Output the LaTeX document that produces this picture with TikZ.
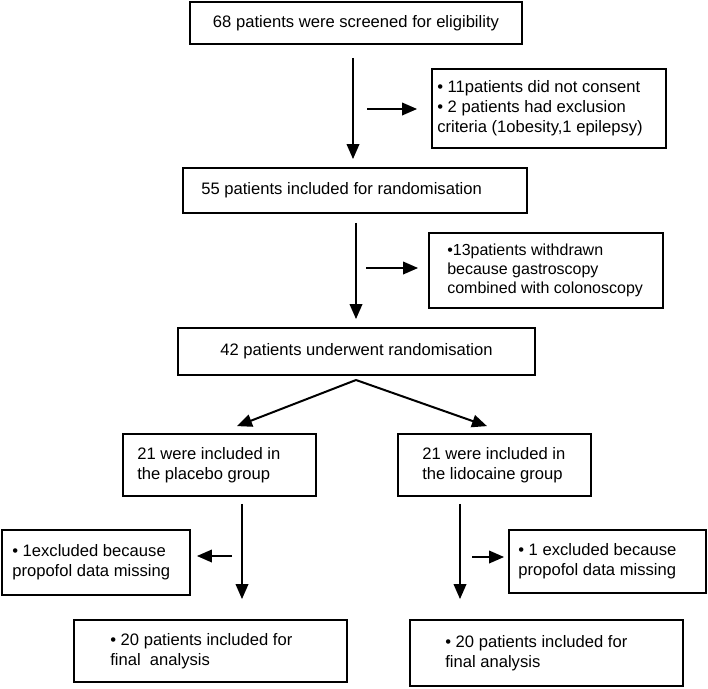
\documentclass[tikz,border=0pt]{standalone}
\usepackage{fontspec}
\setmainfont{Liberation Sans}
\usetikzlibrary{arrows.meta,calc}
\begin{document}
\begin{tikzpicture}[x=1pt,y=-1pt,
  box/.style={draw, line width=1.8pt, inner sep=0pt, font=\fontsize{16.6}{20}\selectfont},
  txt/.style={font=\fontsize{16.6}{20}\selectfont, align=left, inner sep=0pt, anchor=west},
  arr/.style={line width=2pt, -{Triangle[length=15pt,width=12.5pt]}}]
\useasboundingbox (0,0) rectangle (708,688);

% main column
\node[box, minimum width=332pt, minimum height=42pt] (b1) at (356,23) {68 patients were screened for eligibility};
\node[box, minimum width=344pt, minimum height=45pt] (b2) at (355,190.5) {};
\node[txt] (t2) at ($(b2.west)+(19,0)$) {55 patients included for randomisation};
\node[box, minimum width=357pt, minimum height=47pt] (b3) at (356.5,351.5) {42 patients underwent randomisation};

% side boxes top
\node[box, minimum width=234pt, minimum height=79pt] (bA) at (549,108.5) {};
\node[txt] (tA) at ($(bA.west)+(6,0)$) {• 11patients did not consent\\• 2 patients had exclusion\\criteria (1obesity,1 epilepsy)};
\node[box, minimum width=234pt, minimum height=75pt] (bB) at (546,270.5) {};
\node[txt, font=\fontsize{16}{19}\selectfont] (tB) at ($(bB.west)+(19,0)$) {•13patients withdrawn\\because gastroscopy\\combined with colonoscopy};

% groups
\node[box, minimum width=193pt, minimum height=62pt] (bL) at (219.5,465) {};
\node[txt] (tL) at ($(bL.west)+(15,0)$) {21 were included in\\the placebo group};
\node[box, minimum width=193pt, minimum height=62pt] (bR) at (494.5,465) {};
\node[txt] (tR) at ($(bR.west)+(25,0)$) {21 were included in\\the lidocaine group};

% exclusions
\node[box, minimum width=188pt, minimum height=65pt] (sL) at (96,562.5) {};
\node[txt] (tsL) at ($(sL.west)+(11,0)$) {• 1excluded because\\propofol data missing};
\node[box, minimum width=197pt, minimum height=63pt] (sR) at (607.5,561.5) {};
\node[txt] (tsR) at ($(sR.west)+(10,0)$) {• 1 excluded because\\propofol data missing};

% finals
\node[box, minimum width=273pt, minimum height=62pt] (fL) at (210.5,651) {};
\node[txt] (tfL) at ($(fL.west)+(37,0)$) {• 20 patients included for\\final\ \ analysis};
\node[box, minimum width=273pt, minimum height=66pt] (fR) at (546.5,653) {};
\node[txt] (tfR) at ($(fR.west)+(36,0)$) {• 20 patients included for\\final analysis};

% connector helper coordinates
\coordinate (x1) at (353,0);
\coordinate (x2) at (356,0);
\coordinate (sa) at (367,109);
\coordinate (sb) at (366,268);
\coordinate (xl) at (242,0);
\coordinate (xr) at (460,0);
\coordinate (sl) at (232,556);
\coordinate (sr) at (472,557);
\coordinate (apex) at (356,380);

\draw[arr, shorten <=13pt, shorten >=8pt] (b1.south -| x1) -- (b2.north -| x1);
\draw[arr, shorten >=14pt] (sa) -- (sa -| bA.west);
\draw[arr, shorten <=9pt, shorten >=8pt] (b2.south -| x2) -- (b3.north -| x2);
\draw[arr, shorten >=10pt] (sb) -- (sb -| bB.west);
\draw[arr] (apex) -- ($(bL.north)+(17.5,-7)$);
\draw[arr] (apex) -- ($(bR.north)+(-7.5,-7)$);
\draw[arr, shorten <=7pt, shorten >=20pt] (bL.south -| xl) -- (fL.north -| xl);
\draw[arr, shorten <=7pt, shorten >=20pt] (bR.south -| xr) -- (fR.north -| xr);
\draw[arr, shorten >=6pt] (sl) -- (sl -| sL.east);
\draw[arr, shorten >=4pt] (sr) -- (sr -| sR.west);
\end{tikzpicture}
\end{document}
